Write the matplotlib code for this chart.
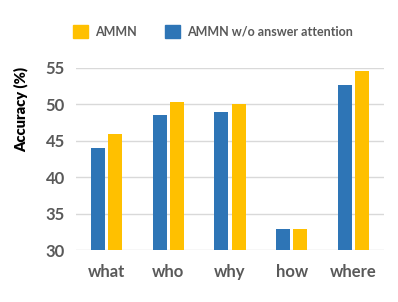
import matplotlib
matplotlib.use("Agg")
import matplotlib.pyplot as plt
import numpy as np
from matplotlib.patches import Patch

categories = ["what", "who", "why", "how", "where"]
ammn = [45.9, 50.3, 50.0, 32.9, 54.6]
ammn_wo = [44.0, 48.6, 48.9, 32.9, 52.7]
series_names = ["AMMN", "AMMN w/o answer attention"]
yticks = [30, 35, 40, 45, 50, 55]

blue = "#2E75B6"
yellow = "#FFC000"
grey = "#595959"
plt.rcParams['font.family'] = ['Lato', 'DejaVu Sans']

fig = plt.figure(figsize=(3.98, 3.02), dpi=100)
ax = fig.add_axes([0.191, 0.172, 0.774, 0.603])

x = np.arange(len(categories))
w = 0.227
gap = 0.054
ax.bar(x - (w + gap) / 2, ammn_wo, width=w, color=blue, zorder=3)
ax.bar(x + (w + gap) / 2, ammn, width=w, color=yellow, zorder=3)

ax.set_ylim(30, 55)
ax.set_xlim(-0.5, len(categories) - 0.5)
ax.set_yticks(yticks)
ax.set_xticks(x)
ax.set_xticklabels(categories)
ax.tick_params(axis='both', length=0, labelsize=12, colors=grey)
ax.tick_params(axis='x', pad=10)
ax.tick_params(axis='y', pad=8)
for lab in ax.get_xticklabels() + ax.get_yticklabels():
    lab.set_fontweight('bold')
ax.yaxis.grid(True, color="#D9D9D9", linewidth=1.0, zorder=0)
ax.set_axisbelow(True)
for s in ax.spines.values():
    s.set_visible(False)
ax.set_ylabel("Accuracy (%)", fontsize=10.5, fontweight='heavy', color='black')
ax.yaxis.set_label_coords(-0.155, 0.77)

handles = [Patch(color=yellow), Patch(color=blue)]
fig.legend(handles, series_names, loc='center', bbox_to_anchor=(0.535, 0.895), ncol=2,
           frameon=False, handlelength=1.2, handleheight=1.2,
           columnspacing=2.3, handletextpad=0.55, labelcolor=grey,
           prop={'weight': 'bold', 'size': 9})

fig.savefig("out.png", dpi=100)
